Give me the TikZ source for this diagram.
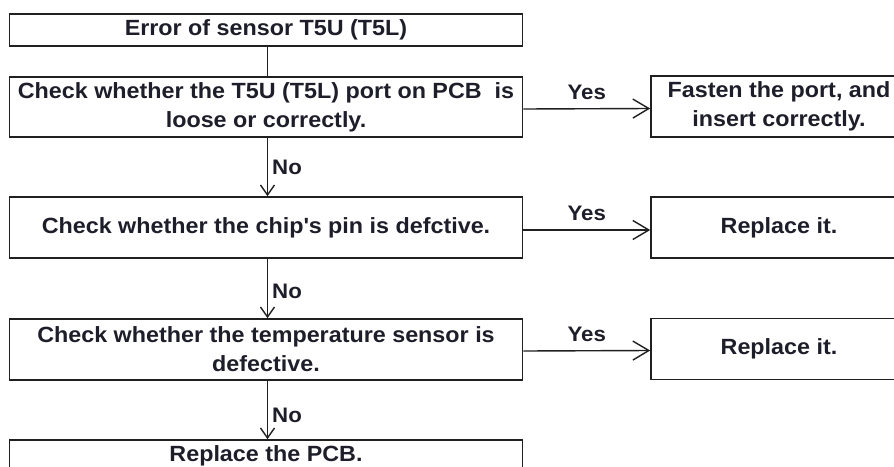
\documentclass[tikz,border=0pt]{standalone}
\usepackage{fontspec}
\setmainfont{Liberation Sans}[FakeStretch=1.06]
\usetikzlibrary{arrows.meta}
\definecolor{ink}{HTML}{1E1E2A}
\definecolor{rule}{HTML}{202020}

\begin{document}
\begin{tikzpicture}[x=1pt,y=-1pt,
  box/.style={draw=rule, line width=1.6pt, inner sep=0pt,
    font=\bfseries\fontsize{22}{29}\selectfont, text=ink, align=center},
  leftbox/.style={box, minimum width=513pt},
  rightbox/.style={box, minimum width=256pt, minimum height=61pt},
  conn/.style={draw=rule, line width=1.4pt},
  yesarrow/.style={conn, -{Straight Barb[length=16pt,width=19pt]}},
  noarrow/.style={conn, -{Straight Barb[length=10pt,width=14pt]}},
  lab/.style={font=\bfseries\fontsize{21}{24}\selectfont, text=ink, inner sep=0pt}]
\useasboundingbox (0,0) rectangle (894,466);
\clip (0,0) rectangle (894,466);

% main column
\node[leftbox, minimum height=32pt] (b1) at (266,30) {Error of sensor T5U (T5L)};
\node[leftbox, minimum height=60pt] (b2) at (266,107)
  {Check whether the T5U (T5L) port on PCB\ \ is\\loose or correctly.};
\node[leftbox, minimum height=61pt] (b3) at (266,227.5)
  {Check whether the chip\textquotesingle s pin is defctive.};
\node[leftbox, minimum height=61pt] (b4) at (266,349.5)
  {Check whether the temperature sensor is\\defective.};
\node[leftbox, minimum height=32pt] (b5) at (266,456) {Replace the PCB.};

% remedies
\node[rightbox] (r1) at (779,106.5) {Fasten the port, and\\insert correctly.};
\node[rightbox] (r2) at (779,227.5) {Replace it.};
\node[rightbox] (r3) at (779,349) {Replace it.};

% downward flow
\draw[conn] ([xshift=1.5pt]b1.south) -- ([xshift=1.5pt]b2.north);
\draw[noarrow] ([xshift=1.5pt]b2.south) -- ([xshift=1.5pt]b3.north)
  node[lab, midway, anchor=west, xshift=4pt] (no1) {No};
\draw[noarrow] ([xshift=1.5pt]b3.south) -- ([xshift=1.5pt]b4.north)
  node[lab, midway, anchor=west, xshift=4pt, yshift=-3pt] (no2) {No};
\draw[noarrow] ([xshift=1.5pt]b4.south) -- ([xshift=1.5pt]b5.north)
  node[lab, midway, anchor=west, xshift=4pt, yshift=-5pt] (no3) {No};

% yes branches
\draw[yesarrow] ([yshift=-2pt]b2.east) -- ([yshift=-2pt]r1.west)
  node[lab, midway, yshift=16pt] (yes1) {Yes};
\draw[yesarrow] ([yshift=-2.5pt]b3.east) -- ([yshift=-2.5pt]r2.west)
  node[lab, midway, yshift=17pt] (yes2) {Yes};
\draw[yesarrow] ([yshift=-1.5pt]b4.east) -- ([yshift=-1.5pt]r3.west)
  node[lab, midway, yshift=16pt] (yes3) {Yes};
\end{tikzpicture}
\end{document}
